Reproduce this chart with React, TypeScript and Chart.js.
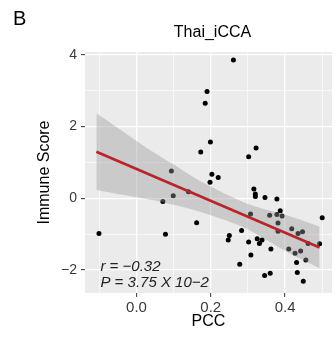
import React, { useEffect, useRef } from "react";
import { Chart, registerables } from "chart.js";
Chart.register(...registerables);

// ---- data ----
const pccValues = [
  -0.101, 0.261, 0.19, 0.185, 0.199, 0.173, 0.203, 0.22, 0.198, 0.094, 0.099, 0.071, 0.078,
  0.162, 0.14, 0.302, 0.322, 0.316, 0.32, 0.32, 0.346, 0.378, 0.307, 0.3585, 0.378, 0.387,
  0.392, 0.381, 0.381, 0.283, 0.25, 0.247, 0.302, 0.325, 0.331, 0.338, 0.308, 0.362, 0.278,
  0.345, 0.36, 0.41, 0.427, 0.431, 0.433, 0.449, 0.456, 0.442, 0.418, 0.435, 0.447, 0.462,
  0.493, 0.5,
];
const immuneScores = [
  -0.98, 3.86, 2.98, 2.65, 1.57, 1.29, 0.67, 0.58, 0.45, 0.76, 0.07, -0.09, -1.0,
  -0.68, 0.18, 1.16, 1.4, 0.26, 0.12, 0.05, 0.02, -0.02, -0.44, -0.47, -0.45, -0.35,
  -0.49, -0.69, -0.92, -0.9, -1.04, -1.16, -1.22, -1.13, -1.26, -1.16, -1.58, -1.41, -1.84,
  -2.15, -2.09, -1.41, -1.53, -1.79, -2.07, -2.31, -1.72, -1.47, -0.85, -0.98, -0.93, -1.26,
  -1.27, -0.54,
];
const fitX = [-0.108, 0.493];
const fitY = [1.3, -1.37];
const bandX = [-0.108, -0.05, 0.0, 0.05, 0.1, 0.15, 0.2, 0.25, 0.3, 0.35, 0.4, 0.45, 0.493];
const bandUpper = [2.37, 1.96, 1.6, 1.26, 0.94, 0.61, 0.33, 0.07, -0.16, -0.32, -0.46, -0.63, -0.79];
const bandLower = [0.23, 0.12, 0.03, -0.06, -0.18, -0.31, -0.47, -0.65, -0.86, -1.16, -1.46, -1.73, -1.95];
const xGridValues = [-0.1, 0, 0.1, 0.2, 0.3, 0.4, 0.5];
const xLabelValues = [0, 0.2, 0.4];
const yGridValues = [-2, -1, 0, 1, 2, 3, 4];
const yLabelValues = [-2, 0, 2, 4];
const chartTitle = "Thai_iCCA";
const panelTag = "B";
const xTitle = "PCC";
const yTitle = "Immune Score";
const statLines = ["r = \u22120.32", "P = 3.75 X 10\u22122"];
const statX = -0.097;
const statY = [-2.03, -2.46];

const FONT = '"Liberation Sans", Arial, Helvetica, sans-serif';
const isIn = (v: number, arr: number[]) => arr.some((a) => Math.abs(a - v) < 1e-9);
const fmtY = (v: number) => (v < 0 ? "\u2212" + Math.abs(v) : String(v));

const decorPlugin = {
  id: "decor",
  beforeDraw(chart: any) {
    const { ctx, chartArea } = chart;
    ctx.save();
    ctx.fillStyle = "#EBEBEB";
    ctx.fillRect(chartArea.left, chartArea.top, chartArea.right - chartArea.left, chartArea.bottom - chartArea.top);
    ctx.restore();
  },
  afterDraw(chart: any) {
    const { ctx, chartArea, scales } = chart;
    ctx.save();
    ctx.fillStyle = "#000";
    ctx.textBaseline = "alphabetic";
    ctx.font = `20px ${FONT}`;
    ctx.textAlign = "left";
    ctx.fillText(panelTag, 13, 25);
    ctx.font = `16px ${FONT}`;
    ctx.textAlign = "center";
    ctx.fillText(chartTitle, (chartArea.left + chartArea.right) / 2 + 4, 37);
    ctx.font = `italic 15px ${FONT}`;
    ctx.textAlign = "left";
    ctx.fillStyle = "#222";
    statLines.forEach((t, i) => {
      ctx.fillText(t, scales.x.getPixelForValue(statX), scales.y.getPixelForValue(statY[i]));
    });
    ctx.restore();
  },
};

export default function App() {
  const ref = useRef<HTMLCanvasElement | null>(null);
  useEffect(() => {
    if (!ref.current) return;
    const points = pccValues.map((x, i) => ({ x, y: immuneScores[i] }));
    const upper = bandX.map((x, i) => ({ x, y: bandUpper[i] }));
    const lower = bandX.map((x, i) => ({ x, y: bandLower[i] }));
    const fit = fitX.map((x, i) => ({ x, y: fitY[i] }));
    const chart = new Chart(ref.current, {
      type: "scatter",
      data: {
        datasets: [
          {
            type: "line",
            data: fit,
            borderColor: "#B8242A",
            borderWidth: 2.6,
            pointRadius: 0,
            fill: false,
            order: 1,
          } as any,
          {
            type: "line",
            data: upper,
            borderWidth: 0,
            borderColor: "rgba(0,0,0,0)",
            backgroundColor: "rgba(153,153,153,0.4)",
            pointRadius: 0,
            fill: "+1",
            tension: 0.3,
            order: 2,
          } as any,
          {
            type: "line",
            data: lower,
            borderWidth: 0,
            borderColor: "rgba(0,0,0,0)",
            pointRadius: 0,
            fill: false,
            tension: 0.3,
            order: 2,
          } as any,
          {
            type: "scatter",
            data: points,
            backgroundColor: "#000",
            borderColor: "#000",
            borderWidth: 0,
            pointRadius: 2.5,
            order: 3,
          } as any,
        ],
      },
      options: {
        responsive: false,
        animation: false,
        events: [],
        layout: { padding: { top: 52, right: 0, bottom: 0, left: 0 } },
        plugins: { legend: { display: false }, tooltip: { enabled: false }, title: { display: false } },
        scales: {
          x: {
            type: "linear",
            min: -0.1386,
            max: 0.5264,
            afterBuildTicks: (s: any) => {
              s.ticks = xGridValues.map((v) => ({ value: v }));
            },
            afterFit: (s: any) => {
              s.height = 46;
            },
            border: { display: false },
            grid: {
              color: "#FFFFFF",
              lineWidth: (c: any) => (isIn(c.tick?.value, xLabelValues) ? 1.3 : 0.6),
              tickColor: (c: any) => (isIn(c.tick?.value, xLabelValues) ? "#333333" : "rgba(0,0,0,0)"),
              tickLength: 4,
              tickWidth: 1,
            },
            ticks: {
              autoSkip: false,
              maxRotation: 0,
              padding: 2,
              color: "#3A3A3A",
              font: { family: FONT, size: 15 },
              callback: (v: any) => (isIn(Number(v), xLabelValues) ? Number(v).toFixed(1) : ""),
            },
            title: {
              display: true,
              text: xTitle,
              color: "#000",
              font: { family: FONT, size: 16 },
              padding: { top: 0, bottom: 8 },
            },
          },
          y: {
            type: "linear",
            min: -2.64,
            max: 4.08,
            afterBuildTicks: (s: any) => {
              s.ticks = yGridValues.map((v) => ({ value: v }));
            },
            afterFit: (s: any) => {
              s.width = 85;
            },
            border: { display: false },
            grid: {
              color: "#FFFFFF",
              lineWidth: (c: any) => (isIn(c.tick?.value, yLabelValues) ? 1.3 : 0.6),
              tickColor: (c: any) => (isIn(c.tick?.value, yLabelValues) ? "#333333" : "rgba(0,0,0,0)"),
              tickLength: 4,
              tickWidth: 1,
            },
            ticks: {
              autoSkip: false,
              padding: 4,
              color: "#3A3A3A",
              font: { family: FONT, size: 14 },
              callback: (v: any) => (isIn(Number(v), yLabelValues) ? fmtY(Number(v)) : ""),
            },
            title: {
              display: true,
              text: yTitle,
              color: "#000",
              font: { family: FONT, size: 16 },
              padding: { top: 35, bottom: 0 },
            },
          },
        },
      },
      plugins: [decorPlugin],
    } as any);
    return () => chart.destroy();
  }, []);
  return (
    <div style={{ position: "absolute", left: 0, top: 0, width: 336, height: 339, background: "#fff" }}>
      <canvas ref={ref} width={336} height={339} style={{ display: "block" }} />
    </div>
  );
}
